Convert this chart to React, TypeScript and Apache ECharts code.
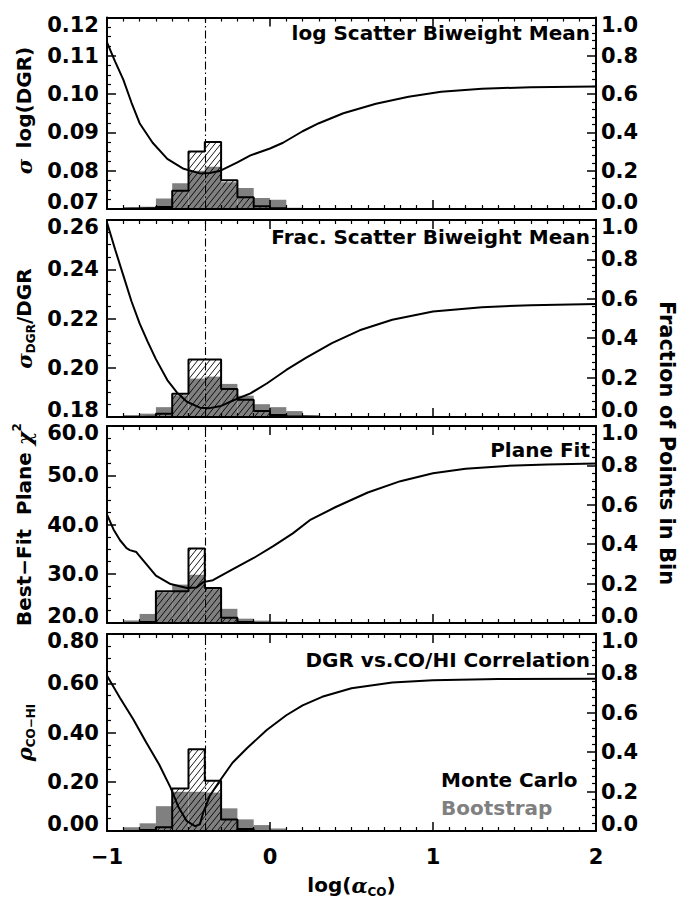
import React, { useEffect, useRef } from 'react';
import * as echarts from 'echarts';

// Histogram bins (left edges) in log(alpha_CO)
const BIN_LO = [-1.0, -0.9, -0.8, -0.7, -0.6, -0.5, -0.4, -0.3, -0.2, -0.1, 0.0, 0.1, 0.2, 0.3];
const BIN_WIDTH = 0.1;
const BEST_FIT_X = -0.4;

// Panel 1: log scatter, biweight mean
const logScatterX = [-1.0, -0.95, -0.9, -0.85, -0.8, -0.72, -0.63, -0.53, -0.43, -0.37, -0.31, -0.2, -0.12, 0.0, 0.08, 0.2, 0.3, 0.45, 0.65, 0.85, 1.05, 1.3, 1.6, 2.0];
const logScatterY = [0.1135, 0.1085, 0.1038, 0.0978, 0.0924, 0.0873, 0.0831, 0.0805, 0.0793, 0.0794, 0.0799, 0.0822, 0.084, 0.0858, 0.0873, 0.0903, 0.0924, 0.095, 0.0975, 0.0993, 0.1006, 0.1014, 0.1018, 0.102];
const logScatterMC = [0, 0.002, 0.005, 0.01, 0.095, 0.3, 0.35, 0.15, 0.062, 0.014, 0.004, 0, 0, 0];
const logScatterBoot = [0, 0.01, 0.012, 0.055, 0.135, 0.2, 0.22, 0.14, 0.11, 0.057, 0.048, 0.006, 0.003, 0];

// Panel 2: fractional scatter, biweight mean
const fracScatterX = [-1.0, -0.95, -0.9, -0.85, -0.8, -0.75, -0.7, -0.63, -0.57, -0.51, -0.43, -0.37, -0.3, -0.22, -0.12, -0.02, 0.1, 0.22, 0.38, 0.55, 0.75, 1.0, 1.3, 1.6, 2.0];
const fracScatterY = [0.259, 0.248, 0.2375, 0.227, 0.218, 0.2105, 0.2035, 0.195, 0.1899, 0.1862, 0.1838, 0.1836, 0.1845, 0.1869, 0.1896, 0.1936, 0.1991, 0.204, 0.21, 0.2152, 0.2195, 0.2228, 0.2246, 0.2254, 0.2259];
const fracScatterMC = [0, 0, 0.003, 0.017, 0.118, 0.292, 0.292, 0.142, 0.088, 0.03, 0.01, 0.003, 0, 0];
const fracScatterBoot = [0, 0.01, 0.017, 0.05, 0.11, 0.195, 0.205, 0.168, 0.108, 0.065, 0.05, 0.03, 0.01, 0.005];

// Panel 3: best-fit plane chi^2
const planeFitX = [-1.0, -0.96, -0.92, -0.88, -0.86, -0.82, -0.8, -0.76, -0.7, -0.61, -0.51, -0.45, -0.41, -0.35, -0.23, -0.1, 0.02, 0.14, 0.25, 0.4, 0.6, 0.8, 1.0, 1.2, 1.45, 1.7, 2.0];
const planeFitY = [42.0, 39.0, 36.8, 35.2, 34.8, 34.4, 33.6, 32.0, 29.6, 27.9, 27.1, 27.2, 28.3, 28.7, 30.9, 33.2, 35.6, 38.2, 41.0, 43.5, 46.5, 48.8, 50.4, 51.3, 51.9, 52.2, 52.4];
const planeFitMC = [0, 0, 0.005, 0.161, 0.161, 0.378, 0.178, 0.027, 0.005, 0, 0, 0, 0, 0];
const planeFitBoot = [0.003, 0.013, 0.046, 0.155, 0.195, 0.245, 0.172, 0.072, 0.022, 0.012, 0.008, 0, 0, 0];

// Panel 4: DGR vs. CO/HI correlation
const corrX = [-1.0, -0.92, -0.84, -0.76, -0.68, -0.61, -0.56, -0.51, -0.46, -0.43, -0.41, -0.37, -0.31, -0.23, -0.14, -0.02, 0.1, 0.2, 0.32, 0.5, 0.75, 1.0, 1.4, 2.0];
const corrY = [0.63, 0.54, 0.455, 0.36, 0.27, 0.176, 0.095, 0.04, 0.02, 0.027, 0.074, 0.142, 0.202, 0.277, 0.337, 0.41, 0.47, 0.51, 0.545, 0.58, 0.603, 0.612, 0.617, 0.618];
const corrMC = [0, 0, 0.005, 0.019, 0.216, 0.415, 0.255, 0.059, 0.01, 0, 0, 0, 0, 0];
const corrBoot = [0, 0.019, 0.039, 0.126, 0.199, 0.199, 0.195, 0.115, 0.059, 0.03, 0.013, 0.005, 0, 0];

// Axis ranges
const X_MIN = -1;
const X_MAX = 2;
const FRACTION_TICKS = [0, 1, 0.2];
const LEFT_RANGES = [
  [0.07, 0.12, 0.01, 2],
  [0.18, 0.26, 0.02, 2],
  [20, 60, 10, 1],
  [0, 0.8, 0.2, 2],
];

const PANEL_TITLES = ['log Scatter Biweight Mean', 'Frac. Scatter Biweight Mean', 'Plane Fit', 'DGR vs.CO/HI Correlation'];

const FONT = '"DejaVu Sans", "Liberation Sans", sans-serif';
const GRID_LEFT = 107;
const GRID_WIDTH = 489;
const PANEL_TOPS = [12, 220, 426, 634];
const PANEL_H = 197;
const GRAY = '#808080';

const panels = [
  { x: logScatterX, y: logScatterY, mc: logScatterMC, boot: logScatterBoot },
  { x: fracScatterX, y: fracScatterY, mc: fracScatterMC, boot: fracScatterBoot },
  { x: planeFitX, y: planeFitY, mc: planeFitMC, boot: planeFitBoot },
  { x: corrX, y: corrY, mc: corrMC, boot: corrBoot },
];

const TICK_LABEL = { fontFamily: FONT, fontSize: 21, fontWeight: 'bold' as const, color: '#000' };

// End labels are nudged inward so neighbouring panels' labels don't collide
function edgeFormatter(min: number, max: number, digits: number) {
  return (v: number) => {
    const s = v.toFixed(digits);
    if (Math.abs(v - max) < 1e-9) return `{top|${s}}`;
    if (Math.abs(v - min) < 1e-9) return `{bot|${s}}`;
    return `{mid|${s}}`;
  };
}

const edgeRich = {
  top: { ...TICK_LABEL, lineHeight: 20, padding: [14, 0, 0, 0] },
  bot: { ...TICK_LABEL, lineHeight: 20, padding: [0, 0, 14, 0] },
  mid: { ...TICK_LABEL, lineHeight: 20 },
};

function binData(vals: number[]) {
  return BIN_LO.map((lo, i) => [lo, lo + BIN_WIDTH, vals[i]]);
}

function outlineData(vals: number[]) {
  const pts: number[][] = [[BIN_LO[0], 0]];
  BIN_LO.forEach((lo, i) => {
    pts.push([lo, vals[i]]);
    pts.push([lo + BIN_WIDTH, vals[i]]);
  });
  pts.push([BIN_LO[BIN_LO.length - 1] + BIN_WIDTH, 0]);
  return pts;
}

// Hatch lines: slope (screen px up per px right) and spacing along y
const HATCH_SLOPE = 1.25;
const HATCH_STEP = 7.5;

function buildOption() {
  const grid: any[] = [];
  const xAxis: any[] = [];
  const yAxis: any[] = [];
  const series: any[] = [];

  panels.forEach((p, i) => {
    grid.push({ left: GRID_LEFT, width: GRID_WIDTH, top: PANEL_TOPS[i], height: PANEL_H });
    const last = i === panels.length - 1;
    const xCommon = {
      type: 'value',
      gridIndex: i,
      min: X_MIN,
      max: X_MAX,
      interval: 1,
      z: 6,
      axisLine: { show: true, onZero: false, lineStyle: { color: '#000', width: 2 } },
      axisTick: { show: true, inside: true, length: 9, lineStyle: { color: '#000', width: 1.5 } },
      minorTick: { show: true, splitNumber: 10, length: 4, lineStyle: { color: '#000', width: 1.2 } },
      splitLine: { show: false },
    };
    xAxis.push({
      ...xCommon,
      position: 'bottom',
      axisLabel: {
        show: last,
        ...TICK_LABEL,
        margin: 15,
        formatter: (v: number) => (v < 0 ? '\u2212' + Math.abs(v) : String(v)),
      },
    });
    xAxis.push({ ...xCommon, position: 'top', axisLabel: { show: false } });

    const [lmin, lmax, lint, dig] = LEFT_RANGES[i];
    yAxis.push({
      type: 'value',
      gridIndex: i,
      position: 'left',
      min: lmin,
      max: lmax,
      interval: lint,
      z: 6,
      axisLine: { show: true, onZero: false, lineStyle: { color: '#000', width: 2 } },
      axisTick: { show: true, inside: true, length: 9, lineStyle: { color: '#000', width: 1.5 } },
      minorTick: { show: true, splitNumber: 4, length: 4, lineStyle: { color: '#000', width: 1.2 } },
      splitLine: { show: false },
      axisLabel: { ...TICK_LABEL, margin: 8, formatter: edgeFormatter(lmin, lmax, dig), rich: edgeRich },
    });
    const [fmin, fmax, fint] = FRACTION_TICKS;
    yAxis.push({
      type: 'value',
      gridIndex: i,
      position: 'right',
      min: fmin,
      max: fmax,
      interval: fint,
      z: 6,
      axisLine: { show: true, onZero: false, lineStyle: { color: '#000', width: 2 } },
      axisTick: { show: true, inside: true, length: 9, lineStyle: { color: '#000', width: 1.5 } },
      minorTick: { show: true, splitNumber: 5, length: 4, lineStyle: { color: '#000', width: 1.2 } },
      splitLine: { show: false },
      axisLabel: { ...TICK_LABEL, margin: 5, formatter: edgeFormatter(fmin, fmax, 1), rich: edgeRich },
    });

    const xi = 2 * i;
    const yl = 2 * i;
    const yr = 2 * i + 1;

    // Bootstrap histogram: solid gray bars
    series.push({
      type: 'custom',
      xAxisIndex: xi,
      yAxisIndex: yr,
      z: 2,
      clip: true,
      silent: true,
      encode: { x: [0, 1], y: 2 },
      data: binData(p.boot),
      renderItem: (_params: any, api: any) => {
        const h = api.value(2);
        if (!(h > 0)) return null;
        const a = api.coord([api.value(0), h]);
        const b = api.coord([api.value(1), 0]);
        return {
          type: 'rect',
          shape: { x: a[0], y: a[1], width: b[0] - a[0], height: b[1] - a[1] },
          style: { fill: GRAY, stroke: null },
        };
      },
    });

    // Monte Carlo histogram: diagonal hatching
    series.push({
      type: 'custom',
      xAxisIndex: xi,
      yAxisIndex: yr,
      z: 3,
      clip: true,
      silent: true,
      encode: { x: [0, 1], y: 2 },
      data: binData(p.mc),
      renderItem: (_params: any, api: any) => {
        const h = api.value(2);
        if (!(h > 0)) return null;
        const a = api.coord([api.value(0), h]);
        const b = api.coord([api.value(1), 0]);
        const x0 = a[0], y0 = a[1], x1 = b[0], y1 = b[1];
        const m = HATCH_SLOPE;
        const children: any[] = [];
        const cStart = Math.ceil((m * x0 + y0) / HATCH_STEP) * HATCH_STEP;
        for (let c = cStart; c <= m * x1 + y1; c += HATCH_STEP) {
          const xa = Math.max(x0, (c - y1) / m);
          const xb = Math.min(x1, (c - y0) / m);
          if (xb - xa > 0.3) {
            children.push({
              type: 'line',
              shape: { x1: xa, y1: c - m * xa, x2: xb, y2: c - m * xb },
              style: { stroke: '#000', lineWidth: 0.9 },
            });
          }
        }
        return { type: 'group', children };
      },
    });

    // Monte Carlo histogram outline
    series.push({
      type: 'line',
      xAxisIndex: xi,
      yAxisIndex: yr,
      z: 4,
      silent: true,
      symbol: 'none',
      data: outlineData(p.mc),
      lineStyle: { color: '#000', width: 2 },
    });

    // Metric curve vs. alpha_CO, with the best-fit marker
    series.push({
      type: 'line',
      xAxisIndex: xi,
      yAxisIndex: yl,
      z: 5,
      silent: true,
      symbol: 'none',
      data: p.x.map((xv, k) => [xv, p.y[k]]),
      lineStyle: { color: '#000', width: 2 },
      markLine: {
        silent: true,
        symbol: ['none', 'none'],
        label: { show: false },
        lineStyle: { color: '#000', width: 1.1, type: [8, 3, 1.5, 3] },
        data: [{ xAxis: BEST_FIT_X }],
      },
    });
  });

  const titleStyle = { fontFamily: FONT, fontSize: 20, fontWeight: 'bold', fill: '#000' };
  const nameRich = {
    n: { fontFamily: FONT, fontSize: 20, fontWeight: 'bold', fill: '#000', lineHeight: 26 },
    g: { fontFamily: 'DejaVu Serif', fontSize: 21, fontWeight: 'bold', fontStyle: 'italic', fill: '#000', lineHeight: 26 },
    s: { fontFamily: FONT, fontSize: 12, fontWeight: 'bold', fill: '#000', verticalAlign: 'bottom', lineHeight: 14 },
    p: { fontFamily: FONT, fontSize: 12, fontWeight: 'bold', fill: '#000', verticalAlign: 'top', lineHeight: 14 },
  };

  const leftNames = [
    '{g|\u03c3} {n| log(DGR)}',
    '{g|\u03c3}{s|DGR}{n|/DGR}',
    '{n|Best\u2212Fit  Plane }{g|\u03c7}{p|2}',
    '{g|\u03c1}{s|CO\u2212HI}',
  ];

  const graphic: any[] = [];
  leftNames.forEach((t, i) => {
    graphic.push({
      type: 'text',
      x: 24,
      y: PANEL_TOPS[i] + PANEL_H / 2,
      rotation: Math.PI / 2,
      silent: true,
      style: { text: t, rich: nameRich, align: 'center', verticalAlign: 'middle', textAlign: 'center', textVerticalAlign: 'middle' },
    });
  });
  const titleY = [33, 237, 450, 660];
  PANEL_TITLES.forEach((t, i) => {
    graphic.push({
      type: 'text',
      x: 590,
      y: titleY[i],
      silent: true,
      style: { ...titleStyle, text: t, align: 'right', verticalAlign: 'middle', textAlign: 'right', textVerticalAlign: 'middle' },
    });
  });
  graphic.push({
    type: 'text',
    x: 667,
    y: 443,
    rotation: -Math.PI / 2,
    silent: true,
    style: { ...titleStyle, fontSize: 21, text: 'Fraction of Points in Bin', align: 'center', verticalAlign: 'middle', textAlign: 'center', textVerticalAlign: 'middle' },
  });
  graphic.push({
    type: 'text',
    x: GRID_LEFT + GRID_WIDTH / 2,
    y: 885,
    silent: true,
    style: { text: '{n|log(}{g|\u03b1}{s|CO}{n|)}', rich: nameRich, align: 'center', verticalAlign: 'middle', textAlign: 'center', textVerticalAlign: 'middle' },
  });
  graphic.push({
    type: 'text',
    x: 441,
    y: 780,
    silent: true,
    style: { ...titleStyle, fontSize: 20, text: 'Monte Carlo', align: 'left', verticalAlign: 'middle', textAlign: 'left', textVerticalAlign: 'middle' },
  });
  graphic.push({
    type: 'text',
    x: 441,
    y: 808,
    silent: true,
    style: { ...titleStyle, fontSize: 20, fill: GRAY, text: 'Bootstrap', align: 'left', verticalAlign: 'middle', textAlign: 'left', textVerticalAlign: 'middle' },
  });

  return {
    animation: false,
    backgroundColor: '#fff',
    grid,
    xAxis,
    yAxis,
    series,
    graphic: { elements: graphic },
  };
}

export default function App() {
  const ref = useRef<HTMLDivElement>(null);
  useEffect(() => {
    if (!ref.current) return;
    const chart = echarts.init(ref.current, null, { renderer: 'svg' });
    chart.setOption(buildOption() as any);
    return () => chart.dispose();
  }, []);
  return <div ref={ref} style={{ position: 'fixed', left: 0, top: 0, width: 685, height: 899, background: '#fff' }} />;
}
